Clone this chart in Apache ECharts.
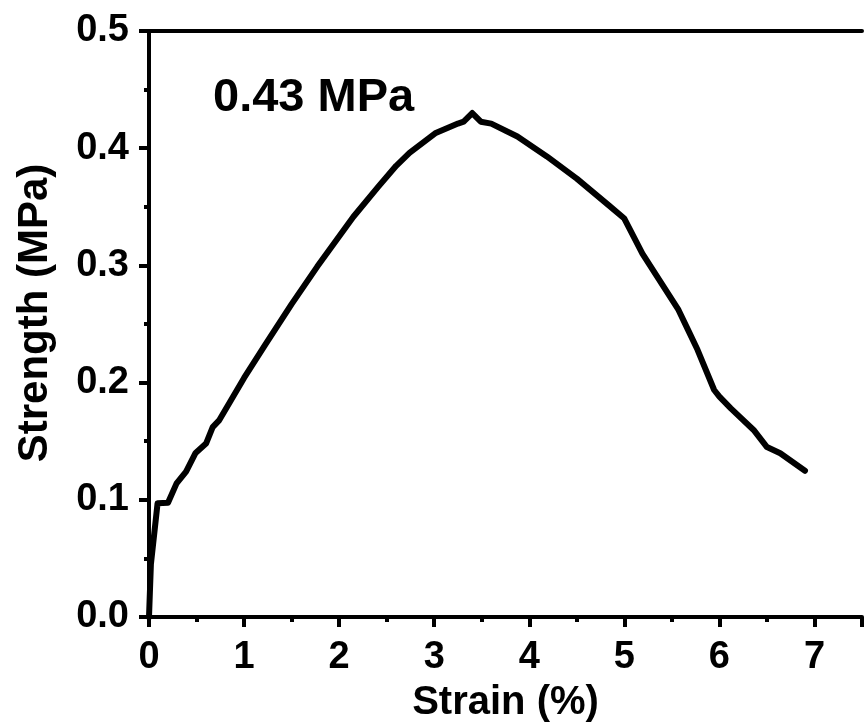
<!DOCTYPE html>
<html>
<head>
<meta charset="utf-8">
<script src="https://cdn.jsdelivr.net/npm/echarts@6/dist/echarts.min.js"></script>
<style>
html,body{margin:0;padding:0;background:#fff;}
#chart{width:865px;height:728px;}
</style>
</head>
<body>
<div id="chart"></div>
<script>
const strain = [0, 0.02, 0.09, 0.2, 0.29, 0.39, 0.49, 0.6, 0.67, 0.74, 1.0, 1.22, 1.5, 1.77, 2.15, 2.41, 2.6, 2.74, 3.01, 3.25, 3.31, 3.40, 3.49, 3.6, 3.875, 4.185, 4.5, 4.84, 5.0, 5.19, 5.57, 5.67, 5.77, 5.945, 6.0, 6.12, 6.36, 6.5, 6.64, 6.9];
const strength = [0, 0.045, 0.097, 0.0975, 0.114, 0.124, 0.140, 0.148, 0.162, 0.168, 0.204, 0.232, 0.267, 0.299, 0.3415, 0.367, 0.385, 0.396, 0.4127, 0.421, 0.4226, 0.430, 0.4226, 0.421, 0.41, 0.393, 0.374, 0.351, 0.340, 0.310, 0.262, 0.245, 0.228, 0.1937, 0.188, 0.178, 0.1596, 0.145, 0.1397, 0.1248];
const annotation = '0.43 MPa';
const xTitle = 'Strain (%)';
const yTitle = 'Strength (MPa)';

const FONT = '"Liberation Sans", Arial, sans-serif';
const chart = echarts.init(document.getElementById('chart'), null, {renderer: 'canvas'});
const axisLine = {show: true, lineStyle: {color: '#000', width: 4}};
chart.setOption({
  animation: false,
  backgroundColor: '#fff',
  grid: {left: 149, top: 31, bottom: 111, right: -9, containLabel: false},
  xAxis: [{
    type: 'value', min: 0, max: 7.5, interval: 1, position: 'bottom',
    axisLine: axisLine,
    axisTick: {show: true, inside: false, length: 10, lineStyle: {width: 4, color: '#000'}},
    minorTick: {show: true, splitNumber: 2, length: 5, lineStyle: {width: 4, color: '#000'}},
    splitLine: {show: false},
    axisLabel: {fontFamily: FONT, fontWeight: 'bold', fontSize: 38, color: '#000', margin: 22,
      formatter: v => Number.isInteger(v) ? String(v) : ''},
    name: xTitle, nameLocation: 'middle', nameGap: 66,
    nameTextStyle: {fontFamily: FONT, fontWeight: 'bold', fontSize: 40, color: '#000'}
  }, {
    type: 'value', min: 0, max: 7.5, position: 'top',
    axisLine: axisLine, axisTick: {show: false}, axisLabel: {show: false}, splitLine: {show: false}
  }],
  yAxis: {
    type: 'value', min: 0, max: 0.5, interval: 0.1,
    axisLine: axisLine,
    axisTick: {show: true, inside: false, length: 10, lineStyle: {width: 4, color: '#000'}},
    minorTick: {show: true, splitNumber: 2, length: 5, lineStyle: {width: 4, color: '#000'}},
    splitLine: {show: false},
    axisLabel: {fontFamily: FONT, fontWeight: 'bold', fontSize: 38, color: '#000', margin: 20,
      formatter: v => v.toFixed(1)},
    name: yTitle, nameLocation: 'middle', nameGap: 93,
    nameTextStyle: {fontFamily: FONT, fontWeight: 'bold', fontSize: 42, color: '#000', padding: [0, 0, 0, 22]}
  },
  graphic: [{
    type: 'text', left: 213, top: 75,
    style: {text: annotation, font: 'bold 47px ' + FONT, fill: '#000'}
  }],
  series: [{
    type: 'line', xAxisIndex: 0,
    data: strain.map((x, i) => [x, strength[i]]),
    symbol: 'none', smooth: false,
    lineStyle: {color: '#000', width: 6, join: 'round', cap: 'round'}
  }]
});
</script>
</body>
</html>
